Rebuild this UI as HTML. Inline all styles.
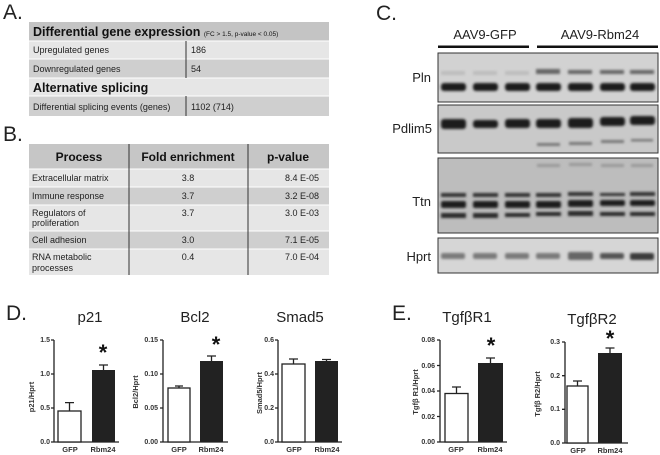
<!DOCTYPE html>
<html><head><meta charset="utf-8"><style>
body{margin:0;background:#fff;}
svg{display:block;font-family:"Liberation Sans",sans-serif;}
.t{font-size:9px;fill:#222}
.tk{font-size:7px;font-weight:bold;fill:#333;text-anchor:end}
.xl{font-size:7.5px;font-weight:bold;fill:#333;text-anchor:middle}
.yl{font-size:7.5px;font-weight:bold;fill:#333;text-anchor:middle}
.ttl{font-size:15px;fill:#222;text-anchor:middle}
.pl{font-size:21px;fill:#222}
.st{font-size:22px;font-weight:bold;fill:#111;text-anchor:middle}
</style></head><body>
<svg width="660" height="455" viewBox="0 0 660 455">
<defs><filter id="bl" x="-20%" y="-100%" width="140%" height="300%"><feGaussianBlur stdDeviation="1.2"/></filter></defs>
<!-- A -->
<text class="pl" x="3" y="19">A.</text>
<rect x="29" y="22" width="300" height="19" fill="#c4c4c4"/>
<rect x="29" y="41" width="300" height="18" fill="#e6e6e6"/>
<rect x="29" y="59" width="300" height="19" fill="#cfcfcf"/>
<rect x="29" y="78" width="300" height="18" fill="#e6e6e6"/>
<rect x="29" y="96" width="300" height="20" fill="#cfcfcf"/>
<g stroke="#fff" stroke-width="1"><line x1="29" y1="41" x2="329" y2="41"/><line x1="29" y1="59" x2="329" y2="59"/><line x1="29" y1="78" x2="329" y2="78"/><line x1="29" y1="96" x2="329" y2="96"/></g>
<line x1="186" y1="41" x2="186" y2="78" stroke="#333" stroke-width="1"/>
<line x1="186" y1="96" x2="186" y2="116" stroke="#333" stroke-width="1"/>
<text x="33" y="36" style="font-size:12.5px;font-weight:bold;fill:#111">Differential gene expression <tspan style="font-size:6.5px;font-weight:normal">(FC &gt; 1.5, p-value &lt; 0.05)</tspan></text>
<text class="t" x="33" y="53">Upregulated genes</text><text class="t" x="191" y="53">186</text>
<text class="t" x="33" y="72">Downregulated genes</text><text class="t" x="191" y="72">54</text>
<text x="33" y="92" style="font-size:12.5px;font-weight:bold;fill:#111">Alternative splicing</text>
<text class="t" x="33" y="110">Differential splicing events (genes)</text><text class="t" x="191" y="110">1102 (714)</text>
<!-- B -->
<text class="pl" x="3" y="141">B.</text>
<rect x="29" y="144" width="300" height="25" fill="#c6c6c6"/>
<rect x="29" y="169" width="300" height="18" fill="#e6e6e6"/>
<rect x="29" y="187" width="300" height="18" fill="#cfcfcf"/>
<rect x="29" y="205" width="300" height="26" fill="#e6e6e6"/>
<rect x="29" y="231" width="300" height="18" fill="#cfcfcf"/>
<rect x="29" y="249" width="300" height="26" fill="#e6e6e6"/>
<g stroke="#fff"><line x1="29" y1="169" x2="329" y2="169"/><line x1="29" y1="187" x2="329" y2="187"/><line x1="29" y1="205" x2="329" y2="205"/><line x1="29" y1="231" x2="329" y2="231"/><line x1="29" y1="249" x2="329" y2="249"/></g>
<line x1="129" y1="144" x2="129" y2="275" stroke="#333"/><line x1="248" y1="144" x2="248" y2="275" stroke="#333"/>
<g style="font-size:12px;font-weight:bold;fill:#111" text-anchor="middle"><text x="79" y="161">Process</text><text x="188" y="161">Fold enrichment</text><text x="288" y="161">p-value</text></g>
<text class="t" x="32" y="181">Extracellular matrix</text>
<text class="t" x="32" y="199">Immune response</text>
<text class="t" x="32" y="216">Regulators of</text><text class="t" x="32" y="226">proliferation</text>
<text class="t" x="32" y="243">Cell adhesion</text>
<text class="t" x="32" y="260">RNA metabolic</text><text class="t" x="32" y="271">processes</text>
<g class="t" text-anchor="middle"><text x="188" y="181">3.8</text><text x="188" y="199">3.7</text><text x="188" y="216">3.7</text><text x="188" y="243">3.0</text><text x="188" y="260">0.4</text>
<text x="302" y="181">8.4 E-05</text><text x="302" y="199">3.2 E-08</text><text x="302" y="216">3.0 E-03</text><text x="302" y="243">7.1 E-05</text><text x="302" y="260">7.0 E-04</text></g>
<!-- C -->
<text class="pl" x="376" y="20">C.</text>
<text x="485" y="39" style="font-size:13px;fill:#222" text-anchor="middle">AAV9-GFP</text>
<text x="600" y="39" style="font-size:13px;fill:#222" text-anchor="middle">AAV9-Rbm24</text>
<rect x="438" y="45.5" width="91" height="2.5" fill="#111"/><rect x="537" y="45.5" width="121" height="2.5" fill="#111"/>
<g style="font-size:13px;fill:#222" text-anchor="end"><text x="431" y="82">Pln</text><text x="432" y="133">Pdlim5</text><text x="431" y="206">Ttn</text><text x="431" y="261">Hprt</text></g>
<rect x="438" y="53" width="220" height="49" fill="#d2d2d2" stroke="#333"/>
<rect x="438" y="105" width="220" height="48" fill="#c9c9c9" stroke="#333"/>
<rect x="438" y="158" width="220" height="75" fill="#bdbdbd" stroke="#333"/>
<rect x="438" y="238" width="220" height="35" fill="#d6d6d6" stroke="#333"/>
<g filter="url(#bl)">
<g fill="#bdbdbd"><rect x="441" y="71" width="24" height="4"/><rect x="473" y="71" width="24" height="4"/><rect x="505" y="71" width="24" height="4"/></g>
<g fill="#666"><rect x="536" y="69" width="24" height="5"/><rect x="568" y="70" width="24" height="4"/><rect x="600" y="70" width="24" height="4"/><rect x="630" y="70" width="24" height="4"/></g>
<g fill="#1c1c1c"><rect x="441" y="83" width="25" height="8" rx="3"/><rect x="473" y="83" width="25" height="8" rx="3"/><rect x="505" y="83" width="25" height="8" rx="3"/><rect x="536" y="83" width="25" height="8" rx="3"/><rect x="568" y="83" width="25" height="8" rx="3"/><rect x="600" y="83" width="25" height="8" rx="3"/><rect x="630" y="83" width="25" height="8" rx="3"/></g>
<g fill="#1c1c1c"><rect x="441" y="119" width="25" height="10" rx="3"/><rect x="473" y="120" width="25" height="8" rx="3"/><rect x="505" y="119" width="25" height="9" rx="3"/><rect x="536" y="119" width="25" height="9" rx="3"/><rect x="568" y="118" width="25" height="10" rx="3"/><rect x="600" y="117" width="25" height="9" rx="3"/><rect x="630" y="116" width="25" height="9" rx="3"/></g>
<g fill="#777"><rect x="537" y="143" width="23" height="3"/><rect x="569" y="142" width="23" height="3"/><rect x="601" y="140" width="23" height="3"/><rect x="631" y="139" width="22" height="2.5"/></g>
<g fill="#999"><rect x="537" y="164" width="23" height="3"/><rect x="569" y="163" width="23" height="3"/><rect x="601" y="164" width="23" height="3"/><rect x="631" y="164" width="22" height="3"/></g>
<g fill="#333"><rect x="441" y="193" width="25" height="4"/><rect x="473" y="193" width="25" height="4"/><rect x="505" y="193" width="25" height="4"/><rect x="536" y="193" width="25" height="4"/><rect x="568" y="192" width="25" height="4"/><rect x="600" y="193" width="25" height="3"/><rect x="630" y="192" width="25" height="4"/></g>
<g fill="#1a1a1a"><rect x="441" y="201" width="25" height="7" rx="2"/><rect x="473" y="201" width="25" height="7" rx="2"/><rect x="505" y="201" width="25" height="7" rx="2"/><rect x="536" y="201" width="25" height="7" rx="2"/><rect x="568" y="200" width="25" height="7" rx="2"/><rect x="600" y="200" width="25" height="6" rx="2"/><rect x="630" y="200" width="25" height="6" rx="2"/></g>
<g fill="#2a2a2a"><rect x="441" y="213" width="25" height="5"/><rect x="473" y="213" width="25" height="5"/><rect x="505" y="213" width="25" height="4"/><rect x="536" y="212" width="25" height="4"/><rect x="568" y="211" width="25" height="5"/><rect x="600" y="212" width="25" height="4"/><rect x="630" y="212" width="25" height="4"/></g>
<g fill="#7a7a7a"><rect x="441" y="253" width="24" height="6" rx="2"/><rect x="473" y="253" width="24" height="6" rx="2"/><rect x="505" y="253" width="24" height="6" rx="2"/><rect x="536" y="253" width="24" height="6" rx="2"/><rect x="568" y="252" width="25" height="8" rx="2" fill="#666"/><rect x="600" y="253" width="24" height="6" rx="2" fill="#555"/><rect x="630" y="253" width="24" height="7" rx="2" fill="#3a3a3a"/></g>
</g>
<!-- D -->
<text class="pl" x="6" y="320">D.</text>
<text class="ttl" x="90" y="322">p21</text>
<text class="ttl" x="195" y="322">Bcl2</text>
<text class="ttl" x="300" y="322">Smad5</text>
<text class="pl" x="392" y="320">E.</text>
<text class="ttl" x="467" y="322">TgfβR1</text>
<text class="ttl" x="592" y="324">TgfβR2</text>
<g stroke="#222" stroke-width="1.3" fill="none">
<path d="M54,340V442H119M51,340H54M51,374H54M51,408H54M51,442H54"/>
<rect x="58" y="411" width="23" height="31" fill="#fff"/><path d="M69.5,411V402.6M65,402.6H74"/>
<path d="M103.5,370V365M99,365H108"/>
<path d="M163,340V442H228M160,340H163M160,374H163M160,408H163M160,442H163"/>
<rect x="168" y="388" width="22" height="54" fill="#fff"/><path d="M179,388V386M175,386H183"/>
<path d="M211.5,361V356M207,356H216"/>
<path d="M278,340V442H342M275,340H278M275,374H278M275,408H278M275,442H278"/>
<rect x="282" y="364" width="23" height="78" fill="#fff"/><path d="M293.5,364V359M289,359H298"/>
<path d="M326.5,361V359.5M322,359.5H331"/>
<path d="M440,340V442H507M437,340H440M437,365.5H440M437,391H440M437,416.5H440M437,442H440"/>
<rect x="445" y="393.5" width="23" height="48.5" fill="#fff"/><path d="M456.5,393.5V387M452,387H461"/>
<path d="M490.5,363V358M486,358H495"/>
<path d="M565,342V443H628M562,342H565M562,375.7H565M562,409.3H565M562,443H565"/>
<rect x="567" y="386" width="21" height="57" fill="#fff"/><path d="M577.5,386V381M573,381H582"/>
<path d="M610,353V348M605.5,348H614.5"/>
</g>
<g fill="#222">
<rect x="92" y="370" width="23" height="72"/>
<rect x="200" y="361" width="23" height="81"/>
<rect x="315" y="361" width="23" height="81"/>
<rect x="478" y="363" width="25" height="79"/>
<rect x="598" y="353" width="24" height="90"/>
</g>
<g class="st"><text x="103" y="360">*</text><text x="216" y="352">*</text><text x="491" y="353">*</text><text x="610" y="346">*</text></g>
<g class="tk">
<text x="50" y="342">1.5</text><text x="50" y="376">1.0</text><text x="50" y="410">0.5</text><text x="50" y="444">0.0</text>
<text x="158" y="342">0.15</text><text x="158" y="376">0.10</text><text x="158" y="410">0.05</text><text x="158" y="444">0.00</text>
<text x="274" y="342">0.6</text><text x="274" y="376">0.4</text><text x="274" y="410">0.2</text><text x="274" y="444">0.0</text>
<text x="435" y="342">0.08</text><text x="435" y="368">0.06</text><text x="435" y="393">0.04</text><text x="435" y="419">0.02</text><text x="435" y="444">0.00</text>
<text x="560" y="344">0.3</text><text x="560" y="378">0.2</text><text x="560" y="411">0.1</text><text x="560" y="445">0.0</text>
</g>
<g class="xl">
<text x="70" y="452">GFP</text><text x="103" y="452">Rbm24</text>
<text x="179" y="452">GFP</text><text x="211" y="452">Rbm24</text>
<text x="294" y="452">GFP</text><text x="327" y="452">Rbm24</text>
<text x="456" y="452">GFP</text><text x="490" y="452">Rbm24</text>
<text x="578" y="453">GFP</text><text x="610" y="453">Rbm24</text>
</g>
<g class="yl">
<text transform="translate(34,397) rotate(-90)">p21/Hprt</text>
<text transform="translate(138,392) rotate(-90)">Bcl2/Hprt</text>
<text transform="translate(262,393) rotate(-90)">Smad5/Hprt</text>
<text transform="translate(418,392) rotate(-90)">Tgfβ R1/Hprt</text>
<text transform="translate(540,394) rotate(-90)">Tgfβ R2/Hprt</text>
</g>
</svg>
</body></html>
